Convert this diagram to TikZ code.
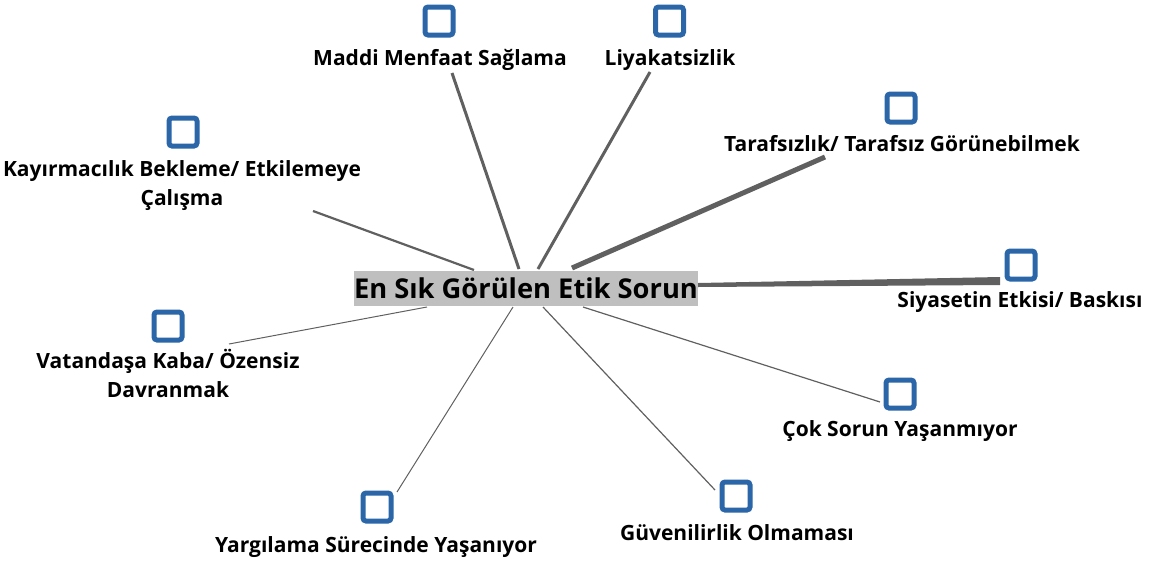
\documentclass[tikz,border=0pt]{standalone}
\usepackage{fontspec}
\setmainfont{Open Sans}
\begin{document}
\begin{tikzpicture}[x=1pt,y=-1pt,
  lbl/.style={font=\fontsize{21}{29}\selectfont\bfseries, text=black, inner sep=0pt, anchor=base, align=center},
  icon/.style={draw=iconblue, line width=5pt, rounded corners=3pt, minimum width=28pt, minimum height=28pt, inner sep=0pt},
  conn/.style={draw=linegray}
]
\definecolor{iconblue}{HTML}{2A66A8}
\definecolor{linegray}{HTML}{606060}
\definecolor{centergray}{HTML}{BFBFBF}
\useasboundingbox (0,0) rectangle (1154,560);

% center
\node[fill=centergray, minimum width=344pt, minimum height=35pt, inner sep=0pt,
      font=\fontsize{27.3}{30}\selectfont\bfseries] (c) at (526,288) {En Sık Görülen Etik Sorun};

% icons
\node[icon] (i1) at (439,21) {};
\node[icon] (i2) at (669.5,21) {};
\node[icon] (i3) at (183,132) {};
\node[icon] (i4) at (901,108) {};
\node[icon] (i5) at (1021,265) {};
\node[icon] (i6) at (168,326) {};
\node[icon] (i7) at (900,394) {};
\node[icon] (i8) at (736,496) {};
\node[icon] (i9) at (377,507) {};

% labels (anchor base = baseline of last line)
\node[lbl] (l1) at (440,65) {Maddi Menfaat Sağlama};
\node[lbl] (l2) at (670,65) {Liyakatsizlik};
\node[lbl] (l3) at (902,151) {Tarafsızlık/ Tarafsız Görünebilmek};
\node[lbl] (l4) at (182,205) {Kayırmacılık Bekleme/ Etkilemeye\\Çalışma};
\node[lbl] (l5) at (1020,307) {Siyasetin Etkisi/ Baskısı};
\node[lbl] (l6) at (168,397) {Vatandaşa Kaba/ Özensiz\\Davranmak};
\node[lbl] (l7) at (900,436) {Çok Sorun Yaşanmıyor};
\node[lbl] (l8) at (737,540) {Güvenilirlik Olmaması};
\node[lbl] (l9) at (376,552) {Yargılama Sürecinde Yaşanıyor};

% connector end points
\coordinate (e1) at (452,73);   \coordinate (s1) at (519,269);
\coordinate (e2) at (650,72);   \coordinate (s2) at (538,269);
\coordinate (e3) at (825,157);  \coordinate (s3) at (572,268);
\coordinate (e4) at (313,211);  \coordinate (s4) at (474,270);
\coordinate (e6) at (229,344);  \coordinate (s6) at (427,307);
\coordinate (e9) at (397,492);  \coordinate (s9) at (513,307);
\coordinate (e8) at (715,490);  \coordinate (s8) at (543,307);
\coordinate (e7) at (880,402);  \coordinate (s7) at (583,307);

\draw[conn, line width=3pt] (s1) -- (e1);
\draw[conn, line width=3pt] (s2) -- (e2);
\draw[conn, line width=5pt] (s3) -- (e3);
\draw[conn, line width=2.2pt] (s4) -- (e4);
\draw[conn, line width=1pt] (s6) -- (e6);
\draw[conn, line width=1pt] (s9) -- (e9);
\draw[conn, line width=1.2pt] (s8) -- (e8);
\draw[conn, line width=1.2pt] (s7) -- (e7);
% tapered connector to Siyasetin
\fill[linegray] (c.east |- 0,283) -- (c.east |- 0,287) -- (1000,285) -- (1000,277) -- cycle;
\end{tikzpicture}
\end{document}
